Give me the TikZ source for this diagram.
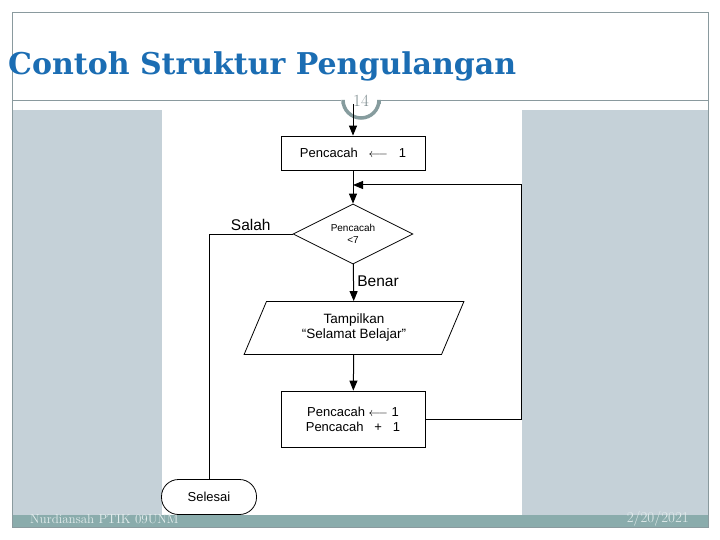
\documentclass[tikz,border=0pt]{standalone}
\usepackage{fontspec}
\usepackage{xcolor}
\usepackage{tikz}
\usetikzlibrary{shapes.geometric,arrows.meta}
\newfontfamily\chartfont{Liberation Sans}
\newfontfamily\titlefont{DejaVu Serif}
\definecolor{TitleBlue}{HTML}{1B6DB3}
\definecolor{PanelGrey}{HTML}{C5D1D8}
\definecolor{FootTeal}{HTML}{8AACAC}
\definecolor{FrameGrey}{HTML}{8A9A9E}
\definecolor{ArcGrey}{HTML}{869C9E}
\definecolor{FootText}{HTML}{E4EEEE}

\tikzset{
  flow/.style={-{Triangle[length=10pt,width=8pt]}, line width=1pt},
  link/.style={line width=1pt},
  procbox/.style={draw, line width=0.8pt, minimum width=144pt, align=center, font=\chartfont\fontsize{13}{15}\selectfont},
  decide/.style={draw, diamond, aspect=2, line width=0.8pt, minimum width=120pt, minimum height=60pt, inner sep=0pt, align=center, font=\chartfont\fontsize{10}{12}\selectfont},
  iobox/.style={draw, trapezium, trapezium left angle=67.5, trapezium right angle=112.5, trapezium stretches=true, line width=0.8pt, minimum width=220pt, minimum height=53pt, align=center, font=\chartfont\fontsize{13.5}{15}\selectfont},
  endbox/.style={draw, rounded corners=17pt, fill=white, line width=0.8pt, minimum width=95pt, minimum height=35pt, font=\chartfont\fontsize{13}{15}\selectfont},
  flowlabel/.style={font=\chartfont\fontsize{15.5}{18}\selectfont}
}

\begin{document}
\begin{tikzpicture}[x=1pt,y=-1pt]%
\useasboundingbox (0,0) rectangle (720,540);%
% slide background
\fill[white] (0,0) rectangle (720,540);%
\fill[PanelGrey] (12,110) rectangle (162,515);%
\fill[PanelGrey] (522,110) rectangle (708,515);%
\fill[FootTeal] (12,515) rectangle (708,527);%
\draw[FrameGrey, line width=0.8pt] (12,12) rectangle (708,527);%
\draw[FrameGrey, line width=0.8pt] (12,100) -- (341,100);%
\draw[FrameGrey, line width=0.8pt] (381,100) -- (708,100);%
\draw[ArcGrey, line width=3.5pt] (343,104) -- (343,100) arc (180:0:18) -- (379,104);%
\node[font=\fontsize{17}{19}\selectfont, text=FrameGrey!90!black] (pagenum) at (361,101) {14};%
\node[anchor=base west, font=\titlefont\bfseries\fontsize{30}{35}\selectfont, text=TitleBlue, inner sep=0pt] (title) at (8,75) {Contoh Struktur Pengulangan};%
\node[anchor=west, font=\fontsize{13}{15}\selectfont, text=FootText, inner sep=0pt] (author) at (30,519) {Nurdiansah PTIK \oldstylenums{09}UNM};%
\node[anchor=east, font=\fontsize{15}{17}\selectfont, text=FootText, inner sep=0pt] (date) at (689,519) {\oldstylenums{2/20/2021}};%
% flowchart
\coordinate (start) at (353,104);%
\node[procbox, minimum height=34pt] (init) at (353,153) {Pencacah \ \ $\longleftarrow$ \ \ 1};%
\node[decide] (cond) at (353,234) {Pencacah\\<7};%
\node[iobox] (show) at (354,328) {Tampilkan\\“Selamat Belajar”};%
\node[procbox, minimum height=56pt] (upd) at (353,419) {Pencacah $\longleftarrow$ 1\\Pencacah \ \ + \ \ 1};%
\node[endbox] (stop) at (209,497) {Selesai};%
\coordinate (back) at (353,185);%
\draw[flow] (start) -- (init);%
\draw[flow] (init) -- (cond);%
\draw[flow] (cond) -- node[flowlabel, right, pos=0.45] {Benar} (show);%
\draw[flow] (show) -- (upd);%
\draw[flow] (upd.east) -- (521,419) |- (back);%
\draw[link] (cond.west) -| node[flowlabel, above, pos=0.25] {Salah} (stop.north);%
\end{tikzpicture}
\end{document}
